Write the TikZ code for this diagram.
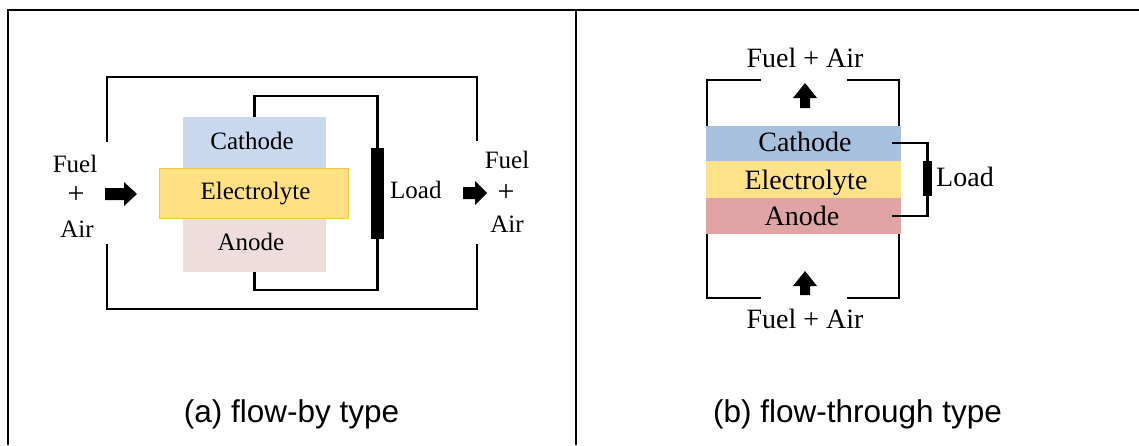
\documentclass[tikz,border=0pt]{standalone}
\usepackage{fontspec}
\setmainfont{Liberation Serif}
\newfontfamily\capfont{Liberation Sans}
\definecolor{cathA}{RGB}{200,216,238}
\definecolor{elecA}{RGB}{255,224,130}
\definecolor{elecAb}{RGB}{245,196,72}
\definecolor{anodA}{RGB}{239,221,222}
\definecolor{cathB}{RGB}{166,192,222}
\definecolor{elecB}{RGB}{255,226,138}
\definecolor{anodB}{RGB}{224,164,164}
\tikzset{
  frame/.style={line width=2.2pt},
  wire/.style={line width=2.8pt},
  layer/.style={draw=none, inner sep=0pt, outer sep=0pt},
  txtA/.style={inner sep=0pt, anchor=base, font=\fontsize{25}{28}\selectfont},
  txtB/.style={inner sep=0pt, anchor=base, font=\fontsize{28}{32}\selectfont},
  captxt/.style={inner sep=0pt, anchor=base, font=\capfont\fontsize{31.5}{36}\selectfont},
  loadbox/.style={fill=black, draw=none, inner sep=0pt, outer sep=0pt}
}
\begin{document}
\begin{tikzpicture}[x=1pt,y=-1pt]
\useasboundingbox (0,0) rectangle (1139,445);
% frame
\draw[frame] (8,445) -- (8,10) -- (1139,10);
\draw[frame] (576,10) -- (576,445);

% ---------- (a) flow-by ----------
\draw[wire] (107,142) -- (107,77) -- (477,77) -- (477,141);
\draw[wire] (107,244) -- (107,309) -- (477,309) -- (477,244);
\node[layer, fill=cathA, minimum width=143, minimum height=51] (cathL) at (254.5,142.5) {};
\node[layer, fill=anodA, minimum width=143, minimum height=53] (anodL) at (254.5,245.5) {};
\node[layer, fill=elecA, draw=elecAb, line width=1.5pt, minimum width=189, minimum height=50] (elecL) at (254,193.5) {};
\node[loadbox, minimum width=13, minimum height=91] (loadL) at (377.5,193.5) {};
\draw[wire] (cathL.north) -- ++(0,-21) -| (loadL.north);
\draw[wire] (anodL.south) -- ++(0,18) -| (loadL.south);
\node[txtA] (tcL) at (252,149) {Cathode};
\node[txtA] (teL) at (255.5,199) {Electrolyte};
\node[txtA] (taL) at (251,250) {Anode};
\node[txtA, anchor=base west] (tlL) at (390,198) {Load};
\node[txtA] (f1) at (75,172) {Fuel};
\node[txtA, anchor=center, font=\fontsize{30}{30}\selectfont] (p1) at (76,195) {+};
\node[txtA] (a1) at (77,237) {Air};
\node[txtA] (f2) at (507,168) {Fuel};
\node[txtA, anchor=center, font=\fontsize{30}{30}\selectfont] (p2) at (506,193) {+};
\node[txtA] (a2) at (507,232) {Air};
\fill (105,188) -- (124,188) -- (124,182) -- (137,194) -- (124,206) -- (124,200) -- (105,200) -- cycle;
\fill (463,187) -- (475,187) -- (475,181) -- (487,193) -- (475,205) -- (475,199) -- (463,199) -- cycle;

% ---------- (b) flow-through ----------
\draw[wire] (761,80) -- (707,80) -- (707,298) -- (761,298);
\draw[wire] (847,80) -- (899,80) -- (899,298) -- (847,298);
\node[layer, fill=cathB, minimum width=195, minimum height=35] (cathR) at (803,143.5) {};
\node[layer, fill=elecB, minimum width=195, minimum height=37] (elecR) at (803,179.5) {};
\node[layer, fill=anodB, minimum width=195, minimum height=36] (anodR) at (803,216) {};
\node[loadbox, minimum width=9, minimum height=35] (loadR) at (927.5,178.5) {};
\coordinate (cwR) at (892,143);
\coordinate (awR) at (892,216);
\draw[line width=2.2pt] (cwR) -| (loadR.north);
\draw[line width=2.2pt] (awR) -| (loadR.south);
\node[txtB] (tcR) at (805,151) {Cathode};
\node[txtB] (teR) at (806,189) {Electrolyte};
\node[txtB] (taR) at (802,225) {Anode};
\node[txtB, anchor=base west] (tlR) at (936,186) {Load};
\node[txtB] (ftop) at (805,67) {Fuel + Air};
\node[txtB] (fbot) at (805,328) {Fuel + Air};
\fill (800,108) -- (800,98) -- (793,98) -- (805,83) -- (817,98) -- (810,98) -- (810,108) -- cycle;
\fill (800,295) -- (800,286) -- (793,286) -- (805,271) -- (817,286) -- (810,286) -- (810,295) -- cycle;

% captions
\node[captxt] (capa) at (291.5,422) {(a) flow-by type};
\node[captxt] (capb) at (857.5,422) {(b) flow-through type};
\end{tikzpicture}
\end{document}
